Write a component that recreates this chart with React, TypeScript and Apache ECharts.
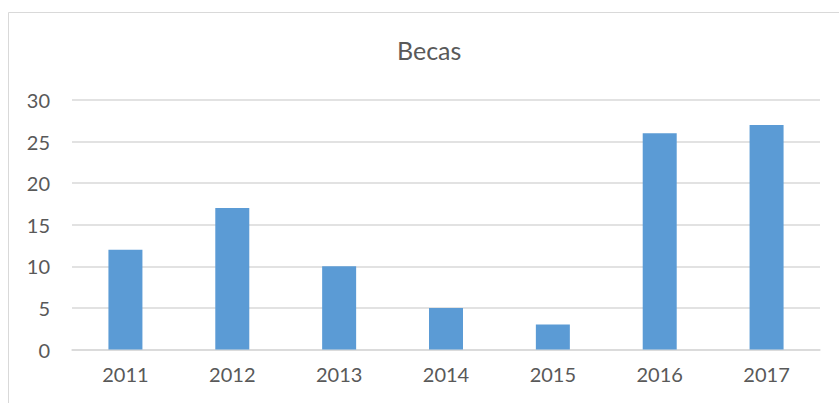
import React, { useEffect, useRef } from "react";
import * as echarts from "echarts";

const titleText = "Becas";
const categories = ["2011", "2012", "2013", "2014", "2015", "2016", "2017"];
const values = [12, 17, 10, 5, 3, 26, 27];
const yMin = 0;
const yMax = 30;
const yStep = 5;

export default function App() {
  const ref = useRef<HTMLDivElement>(null);
  useEffect(() => {
    if (!ref.current) return;
    const chart = echarts.init(ref.current, undefined, { renderer: "svg" });
    const font = "Lato, 'Noto Sans', sans-serif";
    chart.setOption({
      animation: false,
      backgroundColor: "#ffffff",
      title: {
        text: titleText,
        left: 392,
        top: 32,
        textStyle: { color: "#595959", fontSize: 25, fontWeight: "normal", fontFamily: font },
      },
      graphic: [
        {
          type: "rect",
          shape: { x: 8.5, y: 12.5, width: 900, height: 500 },
          style: { fill: "none", stroke: "#D9D9D9", lineWidth: 1 },
          silent: true,
        },
      ],
      grid: { left: 72, right: 19, top: 100, bottom: 53.5, containLabel: false },
      xAxis: {
        type: "category",
        data: categories,
        axisLine: { show: true, lineStyle: { color: "#D9D9D9", width: 1.5 } },
        axisTick: { show: false },
        axisLabel: { color: "#595959", fontSize: 20, fontFamily: font, margin: 14 },
      },
      yAxis: {
        type: "value",
        min: yMin,
        max: yMax,
        interval: yStep,
        axisLine: { show: false },
        axisTick: { show: false },
        splitLine: { lineStyle: { color: "#D9D9D9", width: 1.5 } },
        axisLabel: { color: "#595959", fontSize: 20, fontFamily: font, margin: 22 },
      },
      series: [
        {
          type: "bar",
          data: values,
          barWidth: 34,
          itemStyle: { color: "#5B9BD5" },
        },
      ],
    });
    return () => chart.dispose();
  }, []);
  return (
    <div
      ref={ref}
      style={{ position: "absolute", left: 0, top: 0, width: 839, height: 403 }}
    />
  );
}
